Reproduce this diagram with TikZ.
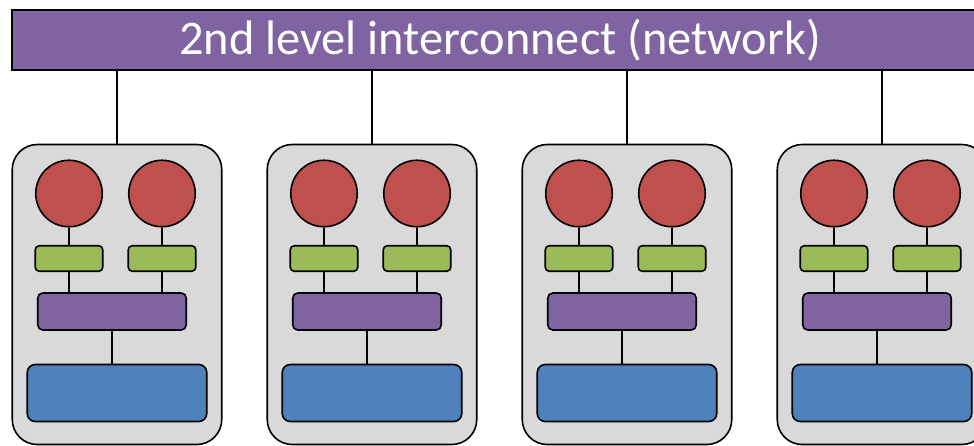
\documentclass[tikz,border=0pt]{standalone}
\usepackage{fontspec}
\setmainfont{Carlito}
\usetikzlibrary{positioning}
\definecolor{netpurple}{HTML}{8064A2}
\definecolor{corered}{HTML}{C0504D}
\definecolor{cachegreen}{HTML}{9BBB59}
\definecolor{memblue}{HTML}{4F81BD}
\definecolor{nodegray}{HTML}{D9D9D9}
\tikzset{
  nodebox/.style={draw, fill=nodegray, rounded corners=5mm, minimum width=41.9mm, minimum height=60mm, inner sep=0pt},
  core/.style={draw, circle, fill=corered, minimum size=13.3mm, inner sep=0pt},
  cache/.style={draw, fill=cachegreen, rounded corners=0.8mm, minimum width=13.5mm, minimum height=5.1mm, inner sep=0pt},
  bus/.style={draw, fill=netpurple, rounded corners=1mm, minimum width=29.7mm, minimum height=7.4mm, inner sep=0pt},
  mem/.style={draw, fill=memblue, rounded corners=1.6mm, minimum width=35.9mm, minimum height=11.4mm, inner sep=0pt},
  link/.style={line width=1.5pt}
}
\begin{document}
\begin{tikzpicture}[x=0.2mm, y=-0.2mm, line width=0.9pt]
\useasboundingbox (0,0) rectangle (974,445);
\clip (0,0) rectangle (974,445);
\node[draw, fill=netpurple, minimum width=195.2mm, minimum height=12mm, inner sep=0pt,
      text=white, font=\fontsize{27.5}{30}\selectfont] (net) at (500,40) {2nd level interconnect (network)};
\foreach \i in {0,...,3}{
  \node[nodebox] (box\i) at ({255*\i+117},294.5) {};
  \node[core] (coreA\i) at ({255*\i+69},193.5) {};
  \node[core] (coreB\i) at ({255*\i+162},193.5) {};
  \node[cache] (cacheA\i) at ({255*\i+69},258.5) {};
  \node[cache] (cacheB\i) at ({255*\i+162},258.5) {};
  \node[bus] (bus\i) at ({255*\i+112},311.5) {};
  \node[mem] (mem\i) at ({255*\i+117},393) {};
  \draw[link] (net.south -| box\i.north) -- (box\i.north);
  \draw[link] (coreA\i) -- (cacheA\i);
  \draw[link] (coreB\i) -- (cacheB\i);
  \draw[link] (cacheA\i) -- (cacheA\i |- bus\i.north);
  \draw[link] (cacheB\i) -- (cacheB\i |- bus\i.north);
  \draw[link] (bus\i) -- (bus\i |- mem\i.north);
}
\end{tikzpicture}
\end{document}
